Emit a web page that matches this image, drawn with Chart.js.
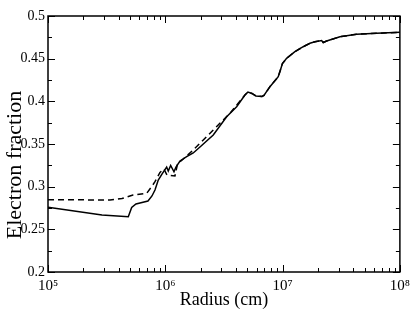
<!DOCTYPE html>
<html>
<head>
<meta charset="utf-8">
<script src="https://cdn.jsdelivr.net/npm/chart.js@4/dist/chart.umd.min.js"></script>
<style>
html,body{margin:0;padding:0;background:#fff;}
canvas{display:block;}
</style>
</head>
<body>
<canvas id="c" width="415" height="321"></canvas>
<script>
// Radius (cm) and electron fraction, solid curve
const solidRadius = [1.0e5, 2.886e5, 4.836e5, 5.169e5, 5.623e5, 6.083e5, 7.116e5, 7.698e5, 8.166e5, 8.710e5,
  9.367e5, 1.027e6, 1.060e6, 1.111e6, 1.186e6, 1.233e6, 1.334e6, 1.521e6, 1.731e6, 1.975e6,
  2.564e6, 3.335e6, 4.058e6, 4.776e6, 5.066e6, 5.479e6, 5.927e6, 6.668e6, 6.934e6, 7.801e6,
  9.180e6, 9.585e6, 9.968e6, 1.082e7, 1.274e7, 1.499e7, 1.710e7, 1.887e7, 2.151e7, 2.221e7,
  2.373e7, 3.082e7, 4.276e7, 6.332e7, 1.0e8];
const solidYe = [0.2758, 0.2668, 0.2648, 0.2756, 0.2797, 0.2809, 0.2832, 0.2891, 0.2961, 0.3078,
  0.3148, 0.3230, 0.3184, 0.3248, 0.3175, 0.3230, 0.3301, 0.3351, 0.3395, 0.3465,
  0.3605, 0.3820, 0.3937, 0.4074, 0.4109, 0.4092, 0.4063, 0.4057, 0.4068, 0.4172,
  0.4289, 0.4367, 0.4443, 0.4504, 0.4582, 0.4640, 0.4680, 0.4699, 0.4713, 0.4689,
  0.4707, 0.4757, 0.4786, 0.4797, 0.4809];

// Dashed curve
const dashedRadius = [1.0e5, 3.377e5, 4.273e5, 5.301e5, 6.936e5, 7.652e5, 8.166e5, 9.008e5, 9.741e5, 1.033e6,
  1.209e6, 1.270e6, 1.423e6, 1.731e6, 2.564e6, 3.557e6, 4.776e6, 5.066e6, 5.479e6, 5.927e6,
  6.668e6, 6.934e6, 7.801e6, 9.180e6, 9.585e6, 9.968e6, 1.082e7, 1.274e7, 1.499e7, 1.710e7,
  1.887e7, 2.151e7, 2.221e7, 2.373e7, 3.082e7, 4.276e7, 6.332e7, 1.0e8];
const dashedYe = [0.2847, 0.2844, 0.2861, 0.2902, 0.2922, 0.3000, 0.3058, 0.3166, 0.3207, 0.3137,
  0.3125, 0.3266, 0.3324, 0.3430, 0.3664, 0.3860, 0.4074, 0.4109, 0.4092, 0.4063,
  0.4057, 0.4068, 0.4172, 0.4289, 0.4367, 0.4443, 0.4504, 0.4582, 0.4640, 0.4680,
  0.4699, 0.4713, 0.4689, 0.4707, 0.4757, 0.4786, 0.4797, 0.4809];

const xTickValues = [1e5, 1e6, 1e7, 1e8];
const xTickLabels = ['10\u2075', '10\u2076', '10\u2077', '10\u2078'];
const yMin = 0.2, yMax = 0.5, yStep = 0.05, yMinorStep = 0.025;
const yTitle = 'Electron fraction';

const toPts = (xs, ys) => xs.map((x, i) => ({x: x, y: ys[i]}));

const frameTicks = {
  id: 'frameTicks',
  afterDatasetsDraw(chart) {
    const ctx = chart.ctx, a = chart.chartArea;
    const xs = chart.scales.x, ys = chart.scales.y;
    ctx.save();
    ctx.strokeStyle = '#000';
    ctx.lineWidth = 1.5;
    ctx.strokeRect(a.left, a.top, a.right - a.left, a.bottom - a.top);
    ctx.lineWidth = 1;
    ctx.beginPath();
    for (let d = 0; d < xTickValues.length; d++) {
      const dec = xTickValues[d];
      for (let m = 1; m <= 9; m++) {
        const v = dec * m;
        const px = Math.round(xs.getPixelForValue(v)) + 0.5;
        const len = m === 1 ? 7 : 4;
        ctx.moveTo(px, a.bottom); ctx.lineTo(px, a.bottom - len);
        ctx.moveTo(px, a.top); ctx.lineTo(px, a.top + len);
        if (dec === 1e8) break;
      }
    }
    const n = Math.round((yMax - yMin) / yMinorStep);
    for (let i = 0; i <= n; i++) {
      const v = yMin + i * yMinorStep;
      const py = Math.round(ys.getPixelForValue(v)) + 0.5;
      const len = (i % 2 === 0) ? 7 : 4;
      ctx.moveTo(a.left, py); ctx.lineTo(a.left + len, py);
      ctx.moveTo(a.right, py); ctx.lineTo(a.right - len, py);
    }
    ctx.stroke();
    // y axis title (rotated), centred on the figure height like the reference
    ctx.fillStyle = '#000';
    ctx.font = '22px "Liberation Serif"';
    ctx.textAlign = 'center';
    ctx.textBaseline = 'middle';
    ctx.translate(15, 165);
    ctx.rotate(-Math.PI / 2);
    ctx.fillText(yTitle, 0, 0);
    ctx.restore();
  }
};

new Chart(document.getElementById('c'), {
  type: 'line',
  data: {
    datasets: [
      {
        label: 'solid',
        data: toPts(solidRadius, solidYe),
        borderColor: '#000',
        borderWidth: 1.5,
        pointRadius: 0,
        tension: 0,
        fill: false
      },
      {
        label: 'dashed',
        data: toPts(dashedRadius, dashedYe),
        borderColor: '#000',
        borderWidth: 1.5,
        borderDash: [6, 4],
        pointRadius: 0,
        tension: 0,
        fill: false
      }
    ]
  },
  options: {
    responsive: false,
    animation: false,
    events: [],
    layout: {padding: {left: 0, right: 15, top: 16, bottom: 0}},
    plugins: {legend: {display: false}, tooltip: {enabled: false}},
    scales: {
      x: {
        type: 'logarithmic',
        min: 1e5,
        max: 1e8,
        grid: {display: false, drawTicks: false},
        border: {display: false},
        afterBuildTicks: s => { s.ticks = xTickValues.map(v => ({value: v})); },
        afterFit: s => { s.height = 49; },
        ticks: {
          color: '#000',
          padding: 5,
          maxRotation: 0,
          autoSkip: false,
          font: {family: 'Liberation Serif', size: 15},
          callback: (v) => { const i = xTickValues.indexOf(v); return i >= 0 ? xTickLabels[i] : ''; }
        },
        title: {
          display: true,
          text: 'Radius (cm)',
          color: '#000',
          font: {family: 'Liberation Serif', size: 18},
          padding: {top: 0, bottom: 10}
        }
      },
      y: {
        min: yMin,
        max: yMax,
        grid: {display: false, drawTicks: false},
        border: {display: false},
        afterFit: s => { s.width = 48; },
        ticks: {
          stepSize: yStep,
          color: '#000',
          padding: 3,
          font: {family: 'Liberation Serif', size: 14},
          callback: v => String(+(+v).toFixed(3))
        },
        title: {display: false}
      }
    }
  },
  plugins: [frameTicks]
});
</script>
</body>
</html>
